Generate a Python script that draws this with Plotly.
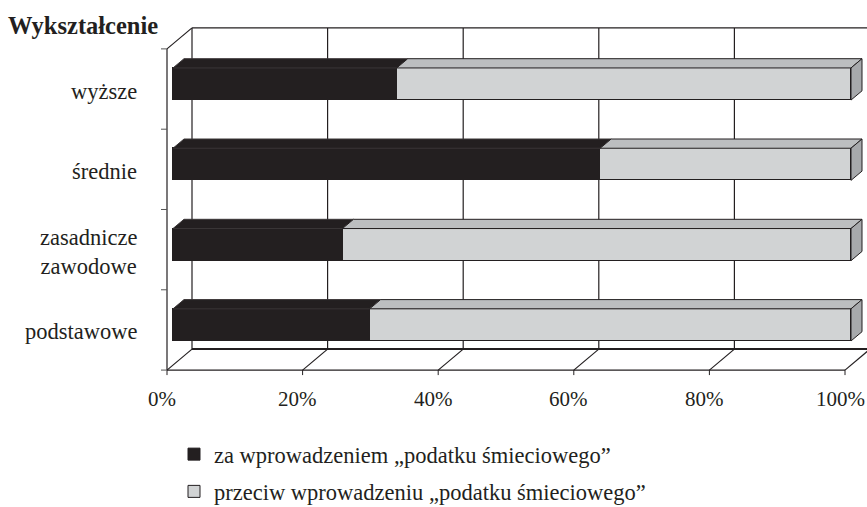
import plotly.graph_objects as go

# ---------------- data ----------------
categories = ["wyższe", "średnie", "zasadnicze<br>zawodowe", "podstawowe"]
za_values = [33, 63, 25, 29]          # % "za"
przeciw_values = [67, 37, 75, 71]     # % "przeciw"
series_names = ["za wprowadzeniem „podatku śmieciowego”",
                "przeciw wprowadzeniu „podatku śmieciowego”"]
tick_values = [0, 20, 40, 60, 80, 100]
tick_labels = ["0%", "20%", "40%", "60%", "80%", "100%"]
axis_title = "Wykształcenie"

# ---------------- style ----------------
W, H = 867, 507
PX = 6.78          # pixels per percent
PY = 80.3          # pixels per category band
X0_PIX = 173       # pixel of 0% on bar front plane
Y0_PIX = 84        # pixel of first category centre on bar front plane
DEPTH_DX, DEPTH_DY = 25.0, -21.0   # full-depth offset (pixels)
BAR_FRONT, BAR_BACK = 0.24, 0.68   # depth fractions of bar faces
BAR_W = 0.4
DARK = "#231f20"
LIGHT = "#d1d3d4"
LIGHT_TOP = "#bcbec0"
LIGHT_SIDE = "#a7a9ac"
FONT = "Liberation Serif, Times New Roman, DejaVu Serif, serif"

n = len(categories)
ypos = list(range(n))


def P(pct, cat, depth):
    """Point in a plane at given depth, expressed in bar-plane data units."""
    d = depth - BAR_FRONT
    return pct + d * DEPTH_DX / PX, cat + d * DEPTH_DY / PY


fig = go.Figure()

# front faces of the bars
fig.add_trace(go.Bar(y=ypos, x=za_values, orientation="h", width=BAR_W,
                     name=series_names[0], legendgroup="a",
                     marker=dict(color=DARK, line=dict(color=DARK, width=1))))
fig.add_trace(go.Bar(y=ypos, x=przeciw_values, base=za_values, orientation="h",
                     width=BAR_W, name=series_names[1], legendgroup="b",
                     marker=dict(color=LIGHT, line=dict(color=DARK, width=1))))

# top faces and end caps
for i in range(n):
    segs = [(0, za_values[i], DARK, "#3a3637"),
            (za_values[i], za_values[i] + przeciw_values[i], LIGHT_TOP, DARK)]
    top = i - BAR_W / 2
    for a, b, col, lc in segs:
        pts = [P(a, top, BAR_FRONT), P(b, top, BAR_FRONT),
               P(b, top, BAR_BACK), P(a, top, BAR_BACK)]
        fig.add_trace(go.Scatter(x=[p[0] for p in pts] + [pts[0][0]],
                                 y=[p[1] for p in pts] + [pts[0][1]],
                                 mode="lines", fill="toself", fillcolor=col,
                                 line=dict(color=lc, width=1),
                                 showlegend=False, hoverinfo="skip"))
    end = za_values[i] + przeciw_values[i]
    pts = [P(end, top, BAR_FRONT), P(end, i + BAR_W / 2, BAR_FRONT),
           P(end, i + BAR_W / 2, BAR_BACK), P(end, top, BAR_BACK)]
    fig.add_trace(go.Scatter(x=[p[0] for p in pts] + [pts[0][0]],
                             y=[p[1] for p in pts] + [pts[0][1]],
                             mode="lines", fill="toself", fillcolor=LIGHT_SIDE,
                             line=dict(color=DARK, width=1),
                             showlegend=False, hoverinfo="skip"))

# ---------------- frame (walls, floor, grid) ----------------
shapes = []
top_cat, bot_cat = -0.5, n - 0.5


def line(p, q, width=1, color=DARK):
    shapes.append(dict(type="line", xref="x", yref="y", layer="below",
                       x0=p[0], y0=p[1], x1=q[0], y1=q[1],
                       line=dict(color=color, width=width)))


# back wall gridlines
for t in tick_values:
    line(P(t, top_cat, 1), P(t, bot_cat, 1), 1.2)
# back wall top edge
line(P(0, top_cat, 1), P(tick_values[-1], top_cat, 1), 1.2)
# floor
line(P(0, bot_cat, 1), P(tick_values[-1], bot_cat, 1), 2)
line(P(0, bot_cat, 0), P(tick_values[-1], bot_cat, 0), 1.2)
for t in tick_values:
    line(P(t, bot_cat, 0), P(t, bot_cat, 1), 1.2)
    fx, fy = P(t, bot_cat, 0)
    shapes.append(dict(type="line", xref="x", yref="y", ysizemode="pixel",
                       yanchor=fy, x0=fx, x1=fx, y0=0, y1=-5, layer="below",
                       line=dict(color=DARK, width=1)))
# left wall
line(P(0, top_cat, 0), P(0, bot_cat, 0), 1.2)
line(P(0, top_cat, 0), P(0, top_cat, 1), 1.2)
for k in range(n + 1):
    fx, fy = P(0, top_cat + k, 0)
    shapes.append(dict(type="line", xref="x", yref="y", xsizemode="pixel",
                       xanchor=fx, x0=0, x1=-6, y0=fy, y1=fy, layer="below",
                       line=dict(color="#555", width=1)))

# ---------------- labels ----------------
annotations = []
for t, lab in zip(tick_values, tick_labels):
    fx, fy = P(t, bot_cat, 0)
    annotations.append(dict(x=fx, y=fy, xref="x", yref="y", text=lab,
                            showarrow=False, xanchor="center", yanchor="top",
                            yshift=-15, xshift=-5,
                            font=dict(family=FONT, size=21, color=DARK)))
for i, c in enumerate(categories):
    fx, fy = P(0, i, 0)
    annotations.append(dict(x=fx, y=fy, xref="x", yref="y", text=c,
                            showarrow=False, xanchor="right", yanchor="middle",
                            align="center", xshift=-28, yshift=-2,
                            font=dict(family=FONT, size=22.5, color=DARK)))
annotations.append(dict(x=6 / W, y=1 - 25 / H, xref="paper", yref="paper",
                        text="<b>" + axis_title + "</b>", showarrow=False,
                        xanchor="left", yanchor="middle",
                        font=dict(family=FONT, size=24.5, color=DARK)))

fig.update_layout(
    width=W, height=H,
    margin=dict(l=0, r=0, t=0, b=0, pad=0, autoexpand=False),
    paper_bgcolor="white", plot_bgcolor="white",
    barmode="stack", bargap=0,
    showlegend=True,
    legend=dict(x=174 / W, y=1 - 433 / H, xanchor="left", yanchor="top",
                traceorder="grouped", tracegroupgap=5,
                font=dict(family=FONT, size=22.5, color=DARK),
                bgcolor="rgba(0,0,0,0)"),
    xaxis=dict(range=[-X0_PIX / PX, (W - X0_PIX) / PX], visible=False,
               fixedrange=True),
    yaxis=dict(range=[(H - Y0_PIX) / PY, -Y0_PIX / PY], visible=False,
               fixedrange=True),
    shapes=shapes,
    annotations=annotations,
)

fig.write_html("out.html", config={"displayModeBar": False},
               post_script="document.body.style.margin='0';document.body.style.overflow='hidden';")
